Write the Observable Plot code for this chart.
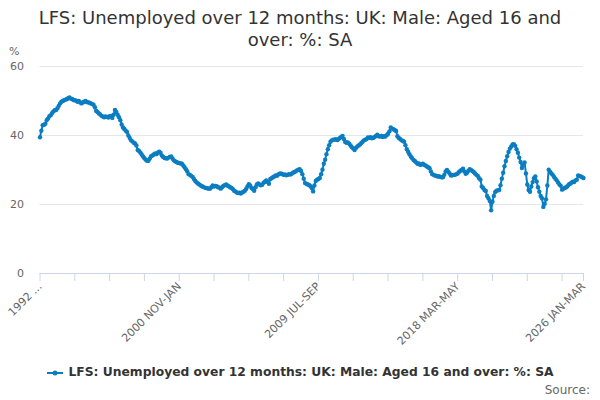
<!DOCTYPE html>
<html><head><meta charset="utf-8">
<script src="https://cdn.jsdelivr.net/npm/d3@7"></script>
<script src="https://cdn.jsdelivr.net/npm/@observablehq/plot@0.6"></script>
<style>
body{margin:0;width:600px;height:400px;position:relative;font-family:"DejaVu Sans",sans-serif;overflow:hidden;background:#fff}
#title{position:absolute;top:7px;left:20px;width:560px;text-align:center;font-size:18px;line-height:22px;color:#333}
#unit{position:absolute;left:9px;top:45px;font-size:11px;color:#666}
#chart{position:absolute;top:50px;left:0}
#legend{position:absolute;top:365px;left:0;width:600px;text-align:center;font-size:12.3px;font-weight:bold;color:#333;white-space:nowrap}
#legend svg{vertical-align:middle;margin-right:4px}
#source{position:absolute;right:10px;top:383px;font-size:12px;color:#666}
</style></head>
<body>
<div id="title"></div>
<div id="unit">%</div>
<div id="chart"></div>
<div id="legend"></div>
<div id="source">Source:</div>
<script>
const titleText = "LFS: Unemployed over 12 months: UK: Male: Aged 16 and over: %: SA";
const seriesName = "LFS: Unemployed over 12 months: UK: Male: Aged 16 and over: %: SA";
const monthNames = ["JAN","FEB","MAR","APR","MAY","JUN","JUL","AUG","SEP","OCT","NOV","DEC"];
const startYear = 1992, startMonth = 2; // MAR-MAY 1992
const values = [
39.5,41.4,43.0,43.1,43.4,44.4,44.9,45.6,45.9,46.5,
47.0,47.3,47.4,47.9,48.6,49.3,49.8,50.0,50.2,50.4,
50.5,50.8,51.0,50.7,50.6,50.3,50.2,50.1,49.8,50.0,
49.6,49.3,49.6,49.8,50.0,49.7,49.6,49.5,49.3,49.1,
48.9,48.2,47.1,46.8,46.4,46.1,45.7,45.5,45.3,45.5,
45.4,45.2,45.6,45.7,45.1,46.0,47.4,46.8,46.0,45.3,
44.4,43.2,42.3,41.9,41.4,41.0,40.0,39.3,38.6,38.3,
37.9,37.7,37.1,35.8,35.5,35.0,34.5,33.9,33.4,33.0,
32.7,32.7,33.3,34.0,34.2,34.5,34.8,34.6,35.0,35.3,
35.0,34.2,33.8,33.5,33.4,33.3,33.6,33.8,33.9,33.3,
32.8,32.5,32.3,32.1,32.0,31.9,31.8,31.3,30.8,30.2,
29.6,28.8,28.6,28.3,28.0,27.4,26.8,26.4,26.1,25.8,
25.5,25.3,25.1,24.9,24.8,24.7,24.6,24.6,25.0,25.5,
25.2,25.4,25.3,25.0,24.9,24.6,25.0,25.4,25.6,25.8,
25.5,25.3,25.0,24.8,24.5,24.0,23.8,23.5,23.3,23.4,
23.2,23.5,23.7,24.0,24.5,25.2,25.9,25.5,24.8,24.5,
24.0,25.0,25.8,26.1,25.8,25.6,25.7,26.3,26.6,27.0,
26.5,26.0,27.4,27.6,27.9,28.1,28.4,28.3,28.7,28.9,
29.0,28.8,28.6,28.7,28.5,28.6,28.8,28.7,28.9,29.2,
29.4,29.6,29.9,30.1,30.2,29.7,28.8,27.5,26.2,26.0,
25.8,25.7,25.3,24.8,23.8,25.5,26.8,27.2,27.4,27.7,
28.8,30.1,31.8,33.0,34.6,36.0,37.2,38.2,38.6,38.8,
38.8,38.9,38.7,38.9,39.3,39.6,39.9,39.0,38.1,37.9,
38.0,37.6,37.1,36.6,36.2,35.8,36.4,36.8,37.1,37.4,
37.8,38.2,38.6,38.8,39.0,39.4,39.3,39.5,39.2,39.3,
39.6,39.9,40.2,39.8,39.7,39.9,39.6,39.8,39.7,40.1,
40.5,41.2,42.3,42.0,41.8,41.6,41.3,39.8,39.3,39.0,
38.6,38.5,38.2,37.2,36.0,35.3,34.6,33.9,33.4,32.9,
32.6,32.2,31.8,31.9,31.5,31.6,31.8,31.5,31.3,31.0,
30.8,30.5,29.6,28.8,28.6,28.4,28.3,28.1,28.2,28.0,
27.9,27.9,28.6,29.6,30.0,29.5,29.0,28.4,28.5,28.6,
28.6,28.8,29.0,29.4,29.8,30.0,30.4,29.6,28.9,29.2,
29.8,30.2,30.0,29.7,29.4,29.0,28.6,28.3,27.6,27.2,
25.2,24.8,24.2,23.9,22.5,21.8,21.0,18.3,20.8,22.5,
23.6,24.0,24.1,24.2,25.6,27.5,29.2,31.1,32.6,34.0,
35.2,36.2,36.8,37.4,37.5,37.0,36.0,35.0,33.6,32.3,
30.6,31.5,32.2,29.0,25.8,24.2,23.7,25.2,26.5,27.6,
28.1,26.7,25.0,23.7,22.5,21.8,19.3,20.2,21.5,25.5,
30.1,29.5,29.0,28.6,28.0,27.5,27.0,26.4,25.8,25.4,
24.3,24.6,24.8,25.0,25.3,25.8,26.0,26.3,26.6,26.5,
27.0,27.2,28.4,28.3,28.1,27.9,27.7
];
const yTicks = [0, 20, 40, 60];
const labelledTicks = [0, 104, 208, 312, 406];
const tickLabels = ["1992 ...", "2000 NOV-JAN", "2009 JUL-SEP", "2018 MAR-MAY", "2026 JAN-MAR"];
const tickStep = 26;

function periodLabel(i) {
  const m = startMonth + i;
  const y = startYear + Math.floor(m / 12);
  const a = m % 12;
  return y + " " + monthNames[a] + "-" + monthNames[(a + 2) % 12];
}
const data = values.map((v, i) => ({i, period: periodLabel(i), v}));
const lastIdx = values.length - 1;
const xTicks = d3.range(0, lastIdx, tickStep).concat([lastIdx]);
const labelMap = new Map(labelledTicks.map((t, k) => [t, tickLabels[k]]));

document.getElementById("title").textContent = titleText;

const color = "#0b7dc2";
const chart = Plot.plot({
  width: 600, height: 300,
  marginTop: 16, marginBottom: 77, marginLeft: 39.5, marginRight: 17,
  style: {fontFamily: "DejaVu Sans", fontSize: "11px", color: "#666", background: "transparent"},
  x: {type: "linear", domain: [0, lastIdx]},
  y: {domain: [0, 60]},
  marks: [
    Plot.gridY(yTicks.filter(v => v > 0), {stroke: "#e6e6e6", strokeOpacity: 1}),
    Plot.axisY({ticks: yTicks, tickSize: 0, tickPadding: 16, label: null, fill: "#666"}),
    Plot.ruleY([0], {stroke: "#ccd6eb"}),
    Plot.axisX({ticks: xTicks, tickFormat: d => labelMap.get(d) ?? "", tickRotate: -45, tickSize: 8, tickPadding: 3, stroke: "#ccd6eb", strokeOpacity: 1, fill: "#666", label: null}),
    Plot.line(data, {x: "i", y: "v", stroke: color, strokeWidth: 2}),
    Plot.dot(data, {x: "i", y: "v", r: 2.2, fill: color, stroke: "none"})
  ]
});
document.getElementById("chart").appendChild(chart);

const legend = document.getElementById("legend");
legend.innerHTML = `<svg width="18" height="10"><line x1="1" y1="5" x2="17" y2="5" stroke="${color}" stroke-width="2"/><circle cx="9" cy="5" r="2.5" fill="${color}"/></svg>`;
legend.appendChild(document.createTextNode(seriesName));
</script>
</body></html>
